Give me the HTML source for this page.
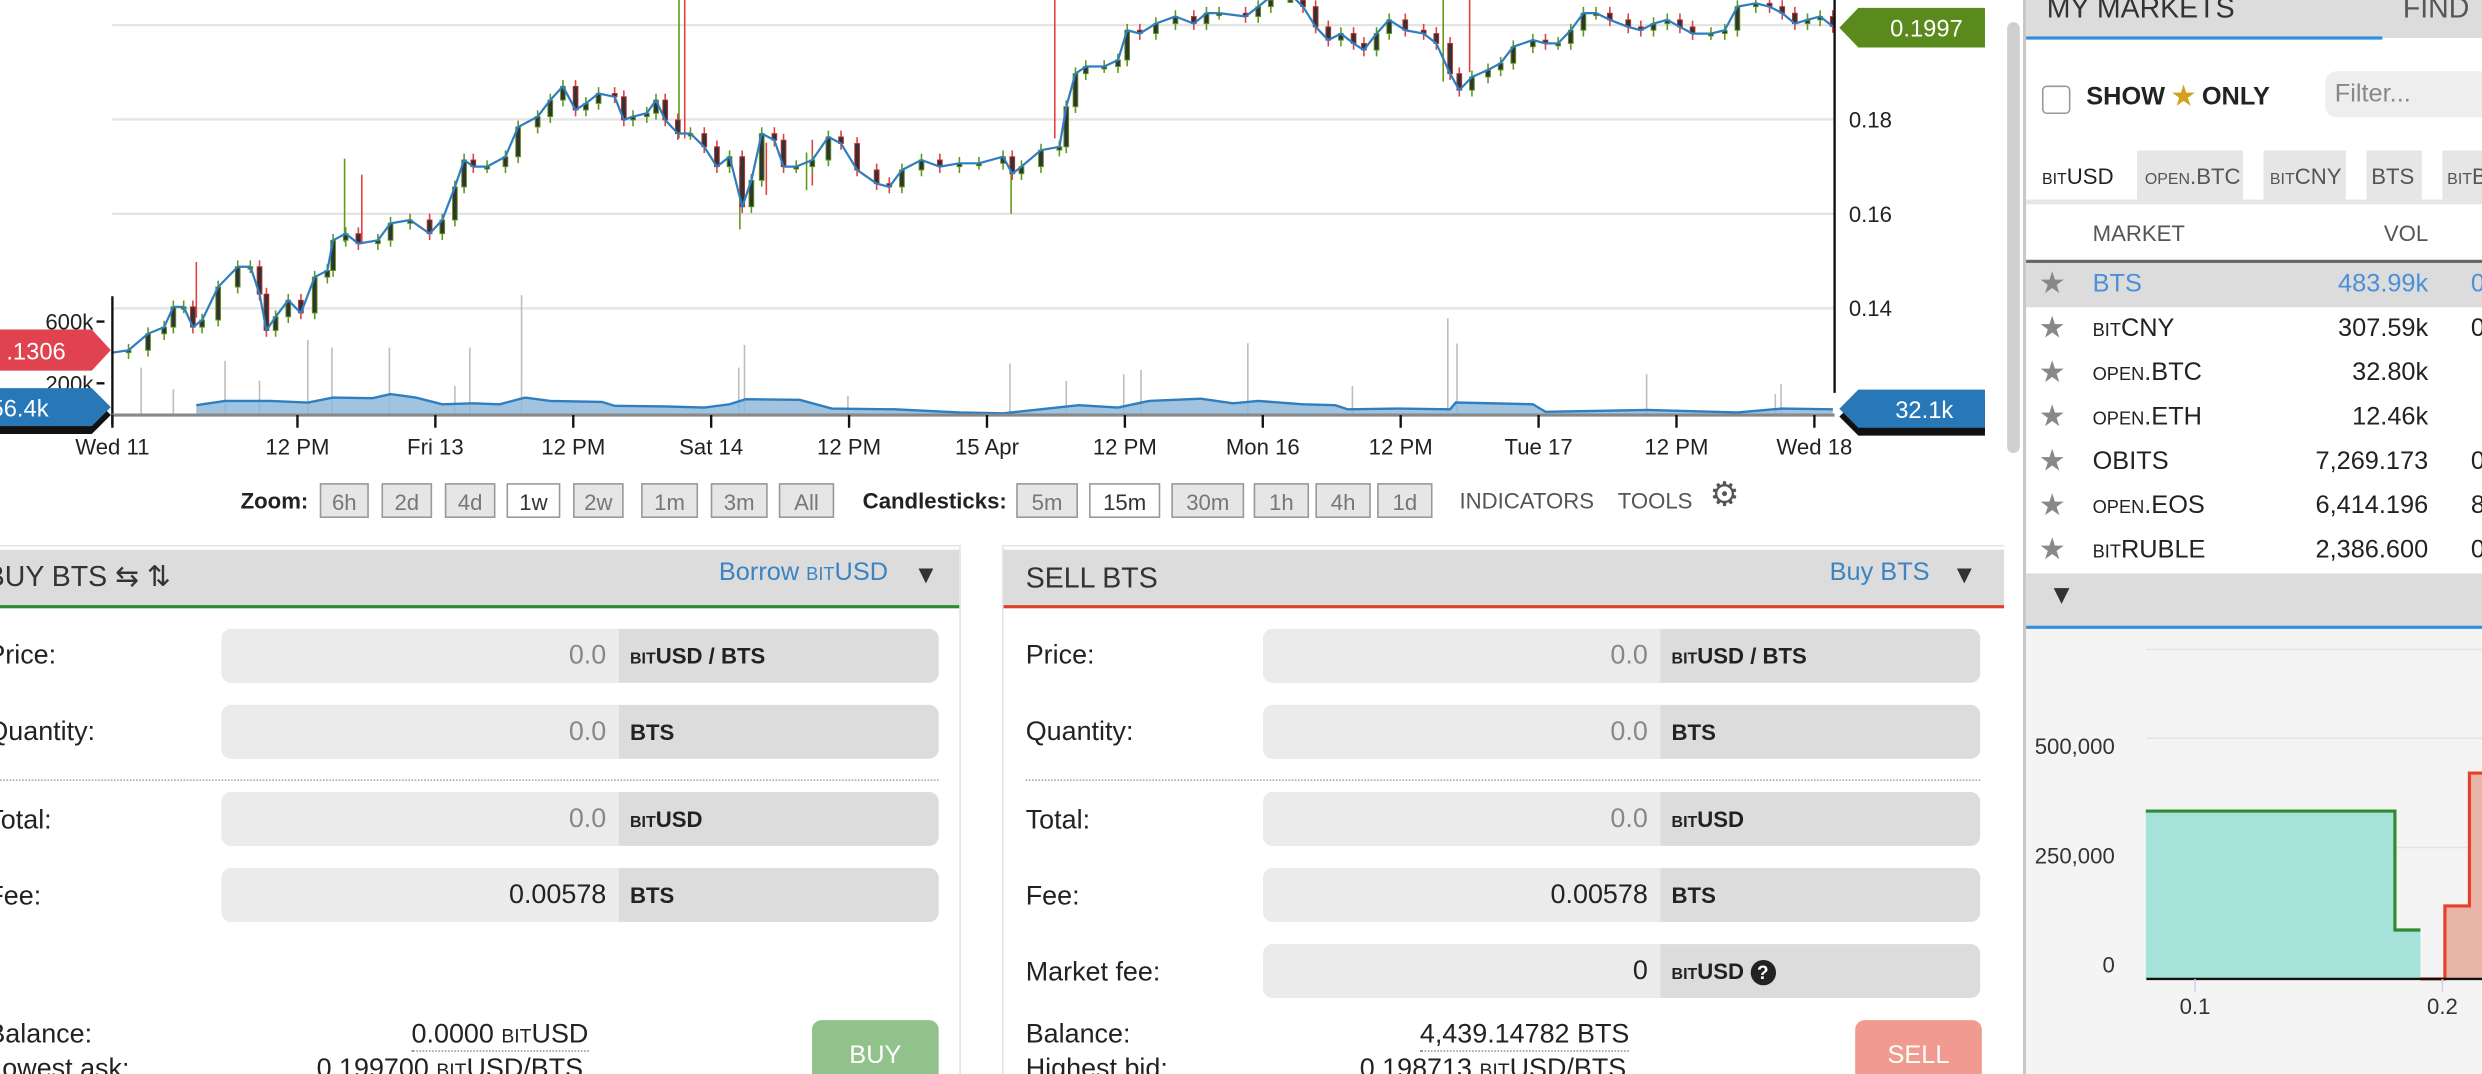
<!DOCTYPE html>
<html><head><meta charset="utf-8">
<style>
html,body{margin:0;padding:0;overflow:hidden;background:#fff;}
body{width:2482px;height:1074px;}
#wrap{position:absolute;left:0;top:0;width:1568px;height:678px;transform-origin:0 0;transform:scale(1.58291,1.58407);font-family:"Liberation Sans",sans-serif;color:#222;overflow:hidden;background:#fff;}
.abs{position:absolute;}
.btn{position:absolute;top:305px;height:22px;border:1px solid #999;background:#e6e6e6;color:#777;font-size:14px;line-height:22px;text-align:center;box-sizing:border-box;}
.btn.on{background:#fff;color:#333;}
.sm{font-size:0.72em;}
.panel-h{position:absolute;top:347px;height:35px;background:#dcdcdc;}
.inp{position:absolute;height:34px;border-radius:6px;background:#dcdcdc;overflow:hidden;}
.inp .v{position:absolute;left:0;top:0;bottom:0;background:#ebebeb;text-align:right;font-size:17px;line-height:34px;color:#888;box-sizing:border-box;padding-right:8px;}
.inp .u{position:absolute;top:0;bottom:0;font-size:14px;font-weight:bold;line-height:34px;color:#222;padding-left:7px;}
.lbl{position:absolute;font-size:17px;color:#222;}
.mrow{position:absolute;left:1280px;width:288px;height:28px;font-size:16px;line-height:28px;}
.mrow .st{position:absolute;left:8px;color:#888;font-size:19px;}
.mrow .nm{position:absolute;left:42px;}
.mrow .vl{position:absolute;right:34px;text-align:right;}
.mrow .ch{position:absolute;left:281px;}
.tabbg{position:absolute;top:95px;height:31px;background:#e6e6e6;}
</style></head><body>
<div id="wrap">

<svg id="chart" class="abs" style="left:0;top:0" width="1262" height="300"></svg>

<div class="abs" style="left:152px;top:308px;font-size:14px;font-weight:bold;">Zoom:</div>
<div class="btn" style="left:202px;width:31px">6h</div>
<div class="btn" style="left:241px;width:32px">2d</div>
<div class="btn" style="left:281px;width:32px">4d</div>
<div class="btn on" style="left:320px;width:34px">1w</div>
<div class="btn" style="left:362px;width:32px">2w</div>
<div class="btn" style="left:405px;width:36px">1m</div>
<div class="btn" style="left:449px;width:36px">3m</div>
<div class="btn" style="left:492px;width:35px">All</div>
<div class="abs" style="left:545px;top:308px;font-size:14px;font-weight:bold;">Candlesticks:</div>
<div class="btn" style="left:642px;width:39px">5m</div>
<div class="btn on" style="left:688px;width:45px">15m</div>
<div class="btn" style="left:740px;width:46px">30m</div>
<div class="btn" style="left:792px;width:35px">1h</div>
<div class="btn" style="left:831px;width:35px">4h</div>
<div class="btn" style="left:870px;width:35px">1d</div>
<div class="abs" style="left:922px;top:308px;font-size:14px;color:#555;">INDICATORS</div>
<div class="abs" style="left:1022px;top:308px;font-size:14px;color:#555;">TOOLS</div>
<div class="abs" style="left:1080px;top:300px;font-size:21px;color:#555;">⚙</div>

<!-- BUY panel -->
<div class="abs" style="left:0;top:344px;width:607px;height:1px;background:#e4e4e4"></div>
<div class="abs" style="left:606px;top:344px;width:1px;height:334px;background:#e4e4e4"></div>
<div class="panel-h" style="left:0;width:606px;border-bottom:2px solid #2e8b2e">
  <span class="abs" style="left:-9px;top:7px;font-size:18px;color:#333">BUY BTS ⇆ ⇅</span>
  <span class="abs" style="right:45px;top:6px;font-size:16px;color:#3a84c4">Borrow <span class="sm">BIT</span>USD</span>
  <span class="abs" style="left:577px;top:8px;font-size:16px;color:#333">▼</span>
</div>
<div class="lbl" style="left:-8px;top:404px">Price:</div>
<div class="lbl" style="left:-8px;top:452px">Quantity:</div>
<div class="lbl" style="left:-8px;top:508px">Total:</div>
<div class="lbl" style="left:-8px;top:556px">Fee:</div>
<div class="inp" style="left:140px;top:397px;width:453px"><div class="v" style="width:251px">0.0</div><div class="u" style="left:251px"><span class="sm">BIT</span>USD / BTS</div></div>
<div class="inp" style="left:140px;top:445px;width:453px"><div class="v" style="width:251px">0.0</div><div class="u" style="left:251px">BTS</div></div>
<div class="abs" style="left:0;top:492px;width:593px;border-top:1px dotted #aaa"></div>
<div class="inp" style="left:140px;top:500px;width:453px"><div class="v" style="width:251px">0.0</div><div class="u" style="left:251px"><span class="sm">BIT</span>USD</div></div>
<div class="inp" style="left:140px;top:548px;width:453px"><div class="v" style="width:251px;color:#222">0.00578</div><div class="u" style="left:251px">BTS</div></div>
<div class="lbl" style="left:-8px;top:643px">Balance:</div>
<div class="lbl" style="left:260px;top:643px;border-bottom:1px dotted #999">0.0000 <span class="sm">BIT</span>USD</div>
<div class="lbl" style="left:-8px;top:665px">Lowest ask:</div>
<div class="lbl" style="left:200px;top:665px">0.199700 <span class="sm">BIT</span>USD/BTS</div>
<div class="abs" style="left:513px;top:644px;width:80px;height:40px;background:#92c28c;border-radius:6px;color:#fff;font-size:16px;text-align:center;line-height:46px">BUY</div>

<!-- SELL panel -->
<div class="abs" style="left:633px;top:344px;width:633px;height:1px;background:#e4e4e4"></div>
<div class="abs" style="left:633px;top:344px;width:1px;height:334px;background:#e4e4e4"></div>
<div class="panel-h" style="left:634px;width:632px;border-bottom:2px solid #e0402a">
  <span class="abs" style="left:14px;top:8px;font-size:18px;color:#333">SELL BTS</span>
  <span class="abs" style="right:47px;top:6px;font-size:16px;color:#3a84c4">Buy BTS</span>
  <span class="abs" style="left:599px;top:8px;font-size:16px;color:#333">▼</span>
</div>
<div class="lbl" style="left:648px;top:404px">Price:</div>
<div class="lbl" style="left:648px;top:452px">Quantity:</div>
<div class="lbl" style="left:648px;top:508px">Total:</div>
<div class="lbl" style="left:648px;top:556px">Fee:</div>
<div class="lbl" style="left:648px;top:604px">Market fee:</div>
<div class="inp" style="left:798px;top:397px;width:453px"><div class="v" style="width:251px">0.0</div><div class="u" style="left:251px"><span class="sm">BIT</span>USD / BTS</div></div>
<div class="inp" style="left:798px;top:445px;width:453px"><div class="v" style="width:251px">0.0</div><div class="u" style="left:251px">BTS</div></div>
<div class="abs" style="left:648px;top:492px;width:603px;border-top:1px dotted #aaa"></div>
<div class="inp" style="left:798px;top:500px;width:453px"><div class="v" style="width:251px">0.0</div><div class="u" style="left:251px"><span class="sm">BIT</span>USD</div></div>
<div class="inp" style="left:798px;top:548px;width:453px"><div class="v" style="width:251px;color:#222">0.00578</div><div class="u" style="left:251px">BTS</div></div>
<div class="inp" style="left:798px;top:596px;width:453px"><div class="v" style="width:251px;color:#222">0</div><div class="u" style="left:251px"><span class="sm">BIT</span>USD <span style="display:inline-block;width:16px;height:16px;border-radius:8px;background:#222;color:#fff;font-size:12px;line-height:16px;text-align:center;vertical-align:middle">?</span></div></div>
<div class="lbl" style="left:648px;top:643px">Balance:</div>
<div class="lbl" style="left:897px;top:643px;border-bottom:1px dotted #999">4,439.14782 BTS</div>
<div class="lbl" style="left:648px;top:665px">Highest bid:</div>
<div class="lbl" style="left:859px;top:665px">0.198713 <span class="sm">BIT</span>USD/BTS</div>
<div class="abs" style="left:1172px;top:644px;width:80px;height:40px;background:#f19b90;border-radius:6px;color:#fff;font-size:16px;text-align:center;line-height:46px">SELL</div>

<!-- scrollbar -->
<div class="abs" style="left:1268px;top:14px;width:8px;height:272px;background:#d0d0d0;border-radius:4px"></div>

<!-- Right markets panel -->
<div class="abs" style="left:1278px;top:0;width:2px;height:678px;background:#c8c8c8"></div>
<div class="abs" style="left:1280px;top:0;width:288px;height:24px;background:#dcdcdc"></div>
<div class="abs" style="left:1293px;top:-5px;font-size:18px;color:#333">MY MARKETS</div>
<div class="abs" style="left:1518px;top:-5px;font-size:18px;color:#555">FIND</div>
<div class="abs" style="left:1280px;top:23px;width:225px;height:2px;background:#2e8fe0"></div>
<div class="abs" style="left:1290px;top:54px;width:16px;height:16px;border:1px solid #999;border-radius:3px;background:#fff"></div>
<div class="abs" style="left:1318px;top:51px;font-size:16px;font-weight:bold;color:#222">SHOW <span style="color:#d4a020">★</span> ONLY</div>
<div class="abs" style="left:1469px;top:45px;width:110px;height:29px;background:#eee;border-radius:7px;font-size:16px;color:#888;line-height:29px;padding-left:6px;box-sizing:border-box">Filter...</div>
<div class="abs" style="left:1280px;top:126px;width:288px;height:3px;background:#e6e6e6"></div>
<div class="tabbg" style="left:1350px;width:67px"></div>
<div class="tabbg" style="left:1430px;width:52px"></div>
<div class="tabbg" style="left:1495px;width:35px"></div>
<div class="tabbg" style="left:1543px;width:30px"></div>
<div class="abs" style="left:1290px;top:103px;font-size:14px;color:#222"><span class="sm">BIT</span>USD</div>
<div class="abs" style="left:1355px;top:103px;font-size:14px;color:#555"><span class="sm">OPEN</span>.BTC</div>
<div class="abs" style="left:1434px;top:103px;font-size:14px;color:#555"><span class="sm">BIT</span>CNY</div>
<div class="abs" style="left:1498px;top:103px;font-size:14px;color:#555">BTS</div>
<div class="abs" style="left:1546px;top:103px;font-size:14px;color:#555"><span class="sm">BIT</span>B</div>
<div class="abs" style="left:1322px;top:139px;font-size:14px;color:#555">MARKET</div>
<div class="abs" style="left:1506px;top:139px;font-size:14px;color:#555">VOL</div>
<div class="abs" style="left:1280px;top:164px;width:288px;height:2px;background:#666"></div>
<div class="mrow" style="top:166px;background:#dcdcdc;color:#4a8fd8"><span class="st">★</span><span class="nm">BTS</span><span class="vl">483.99k</span><span class="ch">0.</span></div>
<div class="mrow" style="top:194px"><span class="st">★</span><span class="nm"><span class="sm">BIT</span>CNY</span><span class="vl">307.59k</span><span class="ch">0.</span></div>
<div class="mrow" style="top:222px"><span class="st">★</span><span class="nm"><span class="sm">OPEN</span>.BTC</span><span class="vl">32.80k</span></div>
<div class="mrow" style="top:250px"><span class="st">★</span><span class="nm"><span class="sm">OPEN</span>.ETH</span><span class="vl">12.46k</span></div>
<div class="mrow" style="top:278px"><span class="st">★</span><span class="nm">OBITS</span><span class="vl">7,269.173</span><span class="ch">0.</span></div>
<div class="mrow" style="top:306px"><span class="st">★</span><span class="nm"><span class="sm">OPEN</span>.EOS</span><span class="vl">6,414.196</span><span class="ch">8.</span></div>
<div class="mrow" style="top:334px"><span class="st">★</span><span class="nm"><span class="sm">BIT</span>RUBLE</span><span class="vl">2,386.600</span><span class="ch">0.</span></div>
<div class="abs" style="left:1280px;top:362px;width:288px;height:33px;background:#dcdcdc"></div>
<div class="abs" style="left:1294px;top:366px;font-size:17px;color:#333">▼</div>
<div class="abs" style="left:1280px;top:395px;width:288px;height:2px;background:#2e8fe0"></div>
<svg id="depth" class="abs" style="left:1280px;top:397px" width="288" height="281"></svg>
</div>

<script>
// ---- price chart data ----
const priceHours = [-4.1,-2.7,-1.0,0.4,1.2,2.1,2.9,3.7,5.1,6.8,7.9,8.7,9.3,10.1,11.2,12.3,13.5,14.6,15.1,16.2,17.3,19.0,20.1,21.8,23.5,24.6,25.7,26.5,27.3,28.5,30.1,31.2,32.9,34.0,35.1,36.2,37.1,38.2,39.6,40.4,41.2,42.4,43.2,44.0,45.1,46.2,47.4,48.5,49.6,50.7,51.5,52.4,53.5,54.3,55.4,56.8,58.2,59.3,60.7,62.4,63.5,64.6,66.3,67.9,69.6,71.3,73.4,74.2,75.0,76.7,78.3,78.9,79.7,80.6,82.2,83.4,84.2,85.3,86.7,88.4,90.0,91.1,92.2,94.5,95.6,96.7,98.4,99.5,100.6,101.7,102.8,103.9,104.8,105.9,107.0,108.4,110.0,111.1,112.3,113.1,114.2,115.6,116.7,117.8,119.5,120.6,121.7,122.8,123.9,125.0,126.2,127.8,128.9,130.0,131.2,132.3,133.4,135.0,136.2,137.3,138.9,140.1,141.2,142.3,143.4,144.5,145.6];
const priceClose = [0.1306,0.1311,0.1346,0.1360,0.1403,0.1403,0.1360,0.1375,0.1445,0.1488,0.1488,0.1430,0.1353,0.1382,0.1417,0.1390,0.1466,0.1480,0.1544,0.1558,0.1537,0.1544,0.1580,0.1587,0.1558,0.1587,0.1657,0.1714,0.1700,0.1700,0.1721,0.1784,0.1806,0.1841,0.1870,0.1820,0.1834,0.1855,0.1848,0.1799,0.1806,0.1813,0.1841,0.1799,0.1770,0.1770,0.1742,0.1700,0.1721,0.1615,0.1671,0.1770,0.1756,0.1700,0.1700,0.1714,0.1763,0.1749,0.1693,0.1664,0.1657,0.1693,0.1714,0.1700,0.1707,0.1707,0.1721,0.1685,0.1700,0.1735,0.1742,0.1827,0.1897,0.1912,0.1912,0.1926,0.1989,0.1982,0.2003,0.2018,0.2003,0.2025,0.2025,0.2018,0.2039,0.2060,0.2065,0.2039,0.1996,0.1968,0.1982,0.1961,0.1947,0.1982,0.2011,0.1989,0.1982,0.1961,0.1897,0.1862,0.1890,0.1905,0.1919,0.1954,0.1968,0.1961,0.1961,0.1989,0.2025,0.2025,0.2011,0.1996,0.1989,0.2003,0.2011,0.1996,0.1982,0.1982,0.1989,0.2039,0.2046,0.2039,0.2025,0.2003,0.2011,0.2018,0.1997];
const wickHours = [3.2,16.1,17.6,45.2,45.7,50.5,52.8,56.3,56.8,74.1,77.9,111.7,114.0];
const wickHigh  = [0.1498,0.1717,0.1683,0.2060,0.2060,0.1700,0.1751,0.1730,0.1757,0.1720,0.2060,0.2060,0.2060];
const wickLow   = [0.1380,0.1540,0.1540,0.1760,0.1760,0.1567,0.1640,0.1650,0.1660,0.1600,0.1760,0.1880,0.1900];
const volMaHours = [3.2,5.7,9.6,12.9,15.1,18.5,20.1,22.3,24.6,27.3,29.6,31.8,34.0,38.5,39.6,44.0,47.4,49.6,51.0,55.7,58.5,64.0,69.6,73.4,80.0,83.4,86.1,90.6,93.4,95.6,99.5,102.3,103.4,107.8,112.3,112.8,119.5,120.6,129.5,137.3,141.2,145.6];
const volMa = [58,86,86,76,108,104,130,108,65,71,65,108,86,80,54,50,43,65,97,93,37,32,11,6,58,43,86,101,71,86,65,58,32,37,32,76,65,15,28,11,37,32];
const volBarHours = [-1.6,1.2,5.7,8.7,12.9,15.0,20.0,25.7,27.0,31.5,50.4,50.9,59.9,74.0,78.9,83.9,85.4,94.7,103.8,112.1,112.9,129.4,140.6,141.1];
const volBars = [302,162,345,216,481,432,432,183,432,771,302,449,119,328,216,259,287,460,183,622,458,259,130,194];
const timeTickHours = [-4.17,12,24,36,48,60,72,84,96,108,120,132,144];
const timeTickLabels = ["Wed 11","12 PM","Fri 13","12 PM","Sat 14","12 PM","15 Apr","12 PM","Mon 16","12 PM","Tue 17","12 PM","Wed 18"];
const priceTicks = [0.14,0.16,0.18,0.20];
const priceTickLabels = ["0.14","0.16","0.18",""];
const volTicks = [600,200];
const volTickLabels = ["600k","200k"];
const lastPrice = "0.1997", firstPrice = ".1306", firstVol = "56.4k", lastVol = "32.1k";

// ---- depth chart data ----
const bidPrices = [0.0801,0.1808,0.1911];
const bidDepth = [384,112];
const askPrices = [0.2010,0.2109,0.2300];
const askDepth = [167,471];
const depthYTicks = [0,250,500];
const depthYLabels = ["0","250,000","500,000"];
const depthXTicks = [0.1,0.2];
const depthXLabels = ["0.1","0.2"];

const NS="http://www.w3.org/2000/svg";
function mk(parent,tag,attrs,name,inter){const e=document.createElementNS(NS,tag);for(const k in attrs)e.setAttribute(k,attrs[k]);


parent.appendChild(e);return e;}

const svg=document.getElementById('chart');
const xT=h=>100.8+h*7.26;
const yP=p=>15.8+(0.20-p)/0.02*59.6;
const yV=k=>261.5-k*0.0975;
const X0=71,X1=1159;

priceTicks.forEach((p,i)=>{
  mk(svg,'line',{x1:X0,x2:X1,y1:yP(p),y2:yP(p),stroke:'#e4e4e4','stroke-width':1.5},'price-gridline',false);
  if(priceTickLabels[i]){const t=mk(svg,'text',{x:1168,y:yP(p)+5,'font-size':14,fill:'#222'},'price-tick-label',false);t.textContent=priceTickLabels[i];}
});
const vb=mk(svg,'g',{},'volume-bars',false);
volBars.forEach((v,i)=>{const x=xT(volBarHours[i]);
  mk(vb,'line',{x1:x,x2:x,y1:yV(0),y2:yV(v),stroke:'#bdbdbd','stroke-width':1},'volume-bar',false);});
let d='M'+xT(volMaHours[0])+','+yV(0);
volMa.forEach((v,i)=>{d+=' L'+xT(volMaHours[i]).toFixed(1)+','+yV(v).toFixed(1);});
d+=' L'+xT(volMaHours[volMaHours.length-1])+','+yV(0)+' Z';
mk(svg,'path',{d:d,fill:'#8fb8da','fill-opacity':0.85,stroke:'none'},'volume-ma-area',false);
let dl='';volMa.forEach((v,i)=>{dl+=(i?' L':'M')+xT(volMaHours[i]).toFixed(1)+','+yV(v).toFixed(1);});
mk(svg,'path',{d:dl,fill:'none',stroke:'#2f7ebf','stroke-width':1.5},'volume-ma-line',false);
const wg=mk(svg,'g',{},'price-wicks',false);
wickHours.forEach((h,i)=>{const x=xT(h);
  mk(wg,'line',{x1:x,x2:x,y1:Math.max(0,yP(wickHigh[i])),y2:yP(wickLow[i]),stroke:(i%2?'#5d9a1c':'#e04040'),'stroke-width':1},'price-wick',false);});
const cg=mk(svg,'g',{},'candles',false);
for(let i=1;i<priceClose.length;i++){
  const o=priceClose[i-1],c=priceClose[i];
  const x=xT(priceHours[i]);const up=c>=o;
  const top=Math.max(0,yP(Math.max(o,c))),bot=yP(Math.min(o,c));
  mk(cg,'line',{x1:x,x2:x,y1:top-4,y2:bot+4,stroke:up?'#5d9a1c':'#e04040','stroke-width':1},'candle-wick',false);
  mk(cg,'rect',{x:x-1.5,y:top,width:3,height:Math.max(1.5,bot-top),fill:'#333',stroke:up?'#5d9a1c':'#c03030','stroke-width':0.6},'candle-body',false);
}
let dm='';priceClose.forEach((p,i)=>{dm+=(i?' L':'M')+xT(priceHours[i]).toFixed(1)+','+yP(p).toFixed(1);});
mk(svg,'path',{d:dm,fill:'none',stroke:'#2f7ebf','stroke-width':1.4,'stroke-linejoin':'round'},'price-ma-line',false);

mk(svg,'line',{x1:X1,x2:X1,y1:0,y2:248,stroke:'#111','stroke-width':1.5},'price-axis-line',false);
mk(svg,'line',{x1:X0,x2:X0,y1:187,y2:268,stroke:'#111','stroke-width':1.5},'volume-axis-line',false);
mk(svg,'line',{x1:X0,x2:X1,y1:262,y2:262,stroke:'#888','stroke-width':2},'time-axis-line',false);
volTicks.forEach((v,i)=>{
  mk(svg,'line',{x1:X0-10,x2:X0-5,y1:yV(v),y2:yV(v),stroke:'#111','stroke-width':1.5},'volume-tick',false);
  const t=mk(svg,'text',{x:59,y:yV(v)+5,'font-size':14,fill:'#222','text-anchor':'end'},'volume-tick-label',false);t.textContent=volTickLabels[i];});
timeTickHours.forEach((h,i)=>{const x=Math.max(X0,xT(h));
  mk(svg,'line',{x1:x,x2:x,y1:262,y2:270,stroke:'#111','stroke-width':1.5},'time-tick',false);
  const t=mk(svg,'text',{x:x,y:287,'font-size':14,fill:'#222','text-anchor':'middle'},'time-tick-label',false);t.textContent=timeTickLabels[i];});

mk(svg,'path',{d:'M0,208 L58,208 L70,221 L58,234 L0,234 Z',fill:'#e0424f'},'first-price-tag',false);
let t=mk(svg,'text',{x:4,y:227,'font-size':15,fill:'#fff'},'first-price-value',false);t.textContent=firstPrice;
mk(svg,'path',{d:'M0,250 L58,250 L70,262 L58,274 L0,274 Z',fill:'#111'},'first-volume-tag-shadow',false);
mk(svg,'path',{d:'M0,245 L58,245 L70,257 L58,269 L0,269 Z',fill:'#2878b8'},'first-volume-tag',false);
t=mk(svg,'text',{x:-6,y:263,'font-size':15,fill:'#fff'},'first-volume-value',false);t.textContent=firstVol;
mk(svg,'path',{d:'M1174,5 L1254,5 L1254,30 L1174,30 L1162,17.5 Z',fill:'#5a8a1c'},'last-price-tag',false);
t=mk(svg,'text',{x:1240,y:23,'font-size':15,fill:'#fff','text-anchor':'end'},'last-price-value',false);t.textContent=lastPrice;
mk(svg,'path',{d:'M1174,251 L1254,251 L1254,275 L1174,275 L1162,263 Z',fill:'#111'},'last-volume-tag-shadow',false);
mk(svg,'path',{d:'M1174,246 L1254,246 L1254,270 L1174,270 L1162,258 Z',fill:'#2878b8'},'last-volume-tag',false);
t=mk(svg,'text',{x:1234,y:264,'font-size':15,fill:'#fff','text-anchor':'end'},'last-volume-value',false);t.textContent=lastVol;

const ds=document.getElementById('depth');
mk(ds,'rect',{x:0,y:0,width:288,height:281,fill:'#f4f4f4'},'depth-background',false);
const dx=p=>106.7+(p-0.1)*1563;
const dy=k=>221-k*0.276;
mk(ds,'line',{x1:76,x2:288,y1:13,y2:13,stroke:'#e4e4e4','stroke-width':1},'depth-gridline',false);
depthYTicks.forEach((k,i)=>{
  if(k>0)mk(ds,'line',{x1:76,x2:288,y1:dy(k)-14,y2:dy(k)-14,stroke:'#e4e4e4','stroke-width':1},'depth-gridline',false);
  const tt=mk(ds,'text',{x:56,y:dy(k)-4,'font-size':14,fill:'#333','text-anchor':'end'},'depth-y-label',false);tt.textContent=depthYLabels[i];});
let bd='M'+dx(bidPrices[0])+','+dy(0);
for(let i=0;i<bidDepth.length;i++){bd+=' L'+dx(bidPrices[i])+','+dy(bidDepth[i])+' L'+dx(bidPrices[i+1])+','+dy(bidDepth[i]);}
mk(ds,'path',{d:bd+' L'+dx(bidPrices[bidPrices.length-1])+','+dy(0)+' Z',fill:'#a6e2da'},'bid-depth-area',false);
let bl='';for(let i=0;i<bidDepth.length;i++){bl+=(i?' L':'M')+dx(bidPrices[i])+','+dy(bidDepth[i])+' L'+dx(bidPrices[i+1])+','+dy(bidDepth[i]);}
mk(ds,'path',{d:bl,fill:'none',stroke:'#2e8b2e','stroke-width':2},'bid-depth-line',false);
let ad='M'+dx(bidPrices[bidPrices.length-1])+','+dy(0)+' L'+dx(askPrices[0])+','+dy(0);
for(let i=0;i<askDepth.length;i++){ad+=' L'+dx(askPrices[i])+','+dy(askDepth[i])+' L'+dx(askPrices[i+1])+','+dy(askDepth[i]);}
mk(ds,'path',{d:ad+' L'+dx(askPrices[askPrices.length-1])+','+dy(0)+' Z',fill:'#e8b4a8'},'ask-depth-area',false);
mk(ds,'path',{d:ad,fill:'none',stroke:'#e8402a','stroke-width':2},'ask-depth-line',false);
mk(ds,'line',{x1:76,x2:288,y1:dy(0),y2:dy(0),stroke:'#111','stroke-width':1.5},'depth-x-axis',false);
depthXTicks.forEach((p,i)=>{
  mk(ds,'line',{x1:dx(p),x2:dx(p),y1:dy(0),y2:dy(0)+8,stroke:'#c8d4e8','stroke-width':1},'depth-x-tick',false);
  const tt=mk(ds,'text',{x:dx(p),y:dy(0)+22,'font-size':14,fill:'#333','text-anchor':'middle'},'depth-x-label',false);tt.textContent=depthXLabels[i];});
</script>
</body></html>
